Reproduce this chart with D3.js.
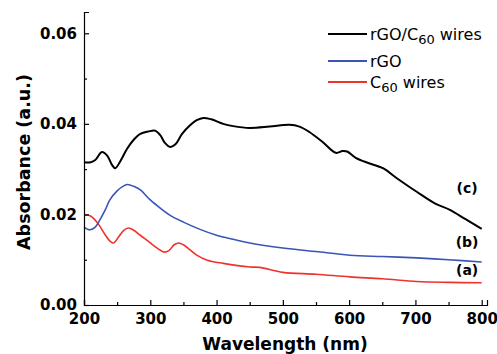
<!DOCTYPE html>
<html lang="en">
<head>
    <meta charset="UTF-8">
    <title>Absorbance spectra</title>
    <script src="https://d3js.org/d3.v7.min.js"></script>
    <style>
        body {
            margin: 0;
            background: #fff;
        }

        .tick-label {
            font-family: "DejaVu Sans", sans-serif;
            font-weight: bold;
            font-size: 15px;
        }

        .axis-title {
            font-family: "DejaVu Sans", sans-serif;
            font-weight: bold;
        }

        .legend-text {
            font-family: "DejaVu Sans", sans-serif;
            font-size: 16px;
        }
    </style>
</head>
<body>
    <div id="chart"></div>
    <script>
        // wavelength (nm) / absorbance
        const wlC  = [200, 210, 217, 227, 235, 242, 247, 255, 265, 275, 285, 297, 307, 315, 322, 330, 338, 348, 360, 370, 380, 392, 410, 425, 450, 480, 510, 525, 540, 560, 580, 590, 597, 610, 630, 651, 672, 702, 730, 752, 775, 790, 800];
        const absC = [0.0315, 0.0315, 0.0320, 0.0338, 0.0330, 0.0310, 0.0302, 0.0318, 0.0345, 0.0365, 0.0378, 0.0383, 0.0385, 0.0375, 0.0358, 0.0349, 0.0355, 0.0378, 0.0397, 0.0408, 0.0413, 0.0410, 0.0400, 0.0395, 0.0391, 0.0394, 0.0398, 0.0394, 0.0382, 0.0360, 0.0336, 0.0340, 0.0339, 0.0325, 0.0313, 0.0302, 0.0280, 0.0250, 0.0224, 0.0210, 0.0190, 0.0177, 0.0168];

        const wlB  = [200, 209, 217, 224, 232, 239, 250, 260, 266, 275, 285, 300, 315, 330, 350, 375, 400, 425, 450, 500, 550, 601, 650, 702, 750, 800];
        const absB = [0.0172, 0.0166, 0.0172, 0.0188, 0.0210, 0.0232, 0.0252, 0.0263, 0.0266, 0.0262, 0.0254, 0.0232, 0.0214, 0.0198, 0.0183, 0.0167, 0.0154, 0.0145, 0.0137, 0.0126, 0.0118, 0.0110, 0.0107, 0.0104, 0.0100, 0.0095];

        const wlA  = [200, 207, 214, 222, 232, 240, 245, 252, 260, 267, 275, 285, 300, 312, 320, 328, 336, 343, 350, 358, 370, 386, 410, 450, 465, 500, 550, 601, 650, 702, 750, 800];
        const absA = [0.0199, 0.0198, 0.0192, 0.0178, 0.0155, 0.0140, 0.0137, 0.0150, 0.0165, 0.0170, 0.0165, 0.0154, 0.0137, 0.0124, 0.0117, 0.0120, 0.0133, 0.0137, 0.0133, 0.0124, 0.0110, 0.0099, 0.0092, 0.0084, 0.0083, 0.0072, 0.0068, 0.0062, 0.0058, 0.0052, 0.0050, 0.0049];

        const xMajor = [200, 300, 400, 500, 600, 700, 800];
        const xMinor = [250, 350, 450, 550, 650, 750];
        const yMajor = [0, 0.02, 0.04, 0.06];
        const yMinor = [0.01, 0.03, 0.05];

        const seriesNames = ["rGO/C60 wires", "rGO", "C60 wires"];
        const curveTags = ["(c)", "(b)", "(a)"];
        const tagAbs = [0.0258, 0.0139, 0.0077];
        const tagWl = 778;

        const colors = ["#000000", "#3a55b4", "#f0322d"];

        const width = 497, height = 354;

        const svg = d3.select("#chart")
                      .append("svg")
                      .attr("width", width)
                      .attr("height", height);

        const x = d3.scaleLinear()
                    .domain([200, 808])
                    .range([84, 487]);

        const y = d3.scaleLinear()
                    .domain([0, 0.0647])
                    .range([305, 12]);

        const series = [
            wlC.map((w, i) => [w, absC[i]]),
            wlB.map((w, i) => [w, absB[i]]),
            wlA.map((w, i) => [w, absA[i]])
        ];

        const line = d3.line()
                       .x(d => x(d[0]))
                       .y(d => y(d[1]))
                       .curve(d3.curveCatmullRom.alpha(0.5));

        // draw red first, black on top
        [2, 1, 0].forEach(i => {
            svg.append("path")
               .datum(series[i])
               .attr("fill", "none")
               .attr("stroke", colors[i])
               .attr("stroke-width", i === 0 ? 2 : 1.6)
               .attr("stroke-linejoin", "round")
               .attr("d", line);
        });

        // axes (ticks point inward)
        const xAxis = svg.append("g")
            .attr("transform", "translate(0,305)")
            .call(d3.axisBottom(x).tickValues(xMajor).tickSize(-5).tickPadding(8).tickFormat(d3.format("d")));
        xAxis.selectAll("text").attr("class", "tick-label").attr("fill", "#000");

        svg.append("g")
            .attr("transform", "translate(0,305)")
            .call(d3.axisBottom(x).tickValues(xMinor).tickSize(-3).tickFormat(""))
            .call(g => g.select(".domain").remove());

        const yAxis = svg.append("g")
            .attr("transform", "translate(84,0)")
            .call(d3.axisLeft(y).tickValues(yMajor).tickSize(-5).tickPadding(7).tickFormat(d3.format(".2f")));
        yAxis.selectAll("text").attr("class", "tick-label").attr("fill", "#000");

        svg.append("g")
            .attr("transform", "translate(84,0)")
            .call(d3.axisLeft(y).tickValues(yMinor).tickSize(-3).tickFormat(""))
            .call(g => g.select(".domain").remove());

        svg.selectAll(".domain, .tick line")
           .attr("stroke", "#000")
           .attr("stroke-width", 1.2);

        // axis titles
        svg.append("text")
           .attr("class", "axis-title")
           .attr("x", 285)
           .attr("y", 350)
           .attr("text-anchor", "middle")
           .style("font-size", "17px")
           .text("Wavelength (nm)");

        svg.append("text")
           .attr("class", "axis-title")
           .attr("transform", "translate(30,162) rotate(-90)")
           .attr("text-anchor", "middle")
           .style("font-size", "17.5px")
           .text("Absorbance (a.u.)");

        // legend
        const legendY = [34, 61, 82];
        const legend = svg.append("g");
        seriesNames.forEach((name, i) => {
            legend.append("line")
                  .attr("x1", 328).attr("x2", 367)
                  .attr("y1", legendY[i]).attr("y2", legendY[i])
                  .attr("stroke", colors[i])
                  .attr("stroke-width", 1.8);
            const t = legend.append("text")
                  .attr("class", "legend-text")
                  .attr("x", 370)
                  .attr("y", legendY[i] + 5.5);
            const parts = name.split("C60");
            if (parts.length > 1) {
                t.append("tspan").text(parts[0] + "C");
                t.append("tspan").attr("dy", 4).style("font-size", "13px").text("60");
                t.append("tspan").attr("dy", -4).text(parts[1]);
            } else {
                t.text(name);
            }
        });

        // curve tags
        svg.append("g")
           .selectAll("text")
           .data(curveTags)
           .enter().append("text")
           .attr("class", "tick-label")
           .style("font-size", "14px")
           .attr("x", x(tagWl))
           .attr("y", (d, i) => y(tagAbs[i]))
           .attr("dy", "0.35em")
           .attr("text-anchor", "middle")
           .text(d => d);
    </script>
</body>
</html>
